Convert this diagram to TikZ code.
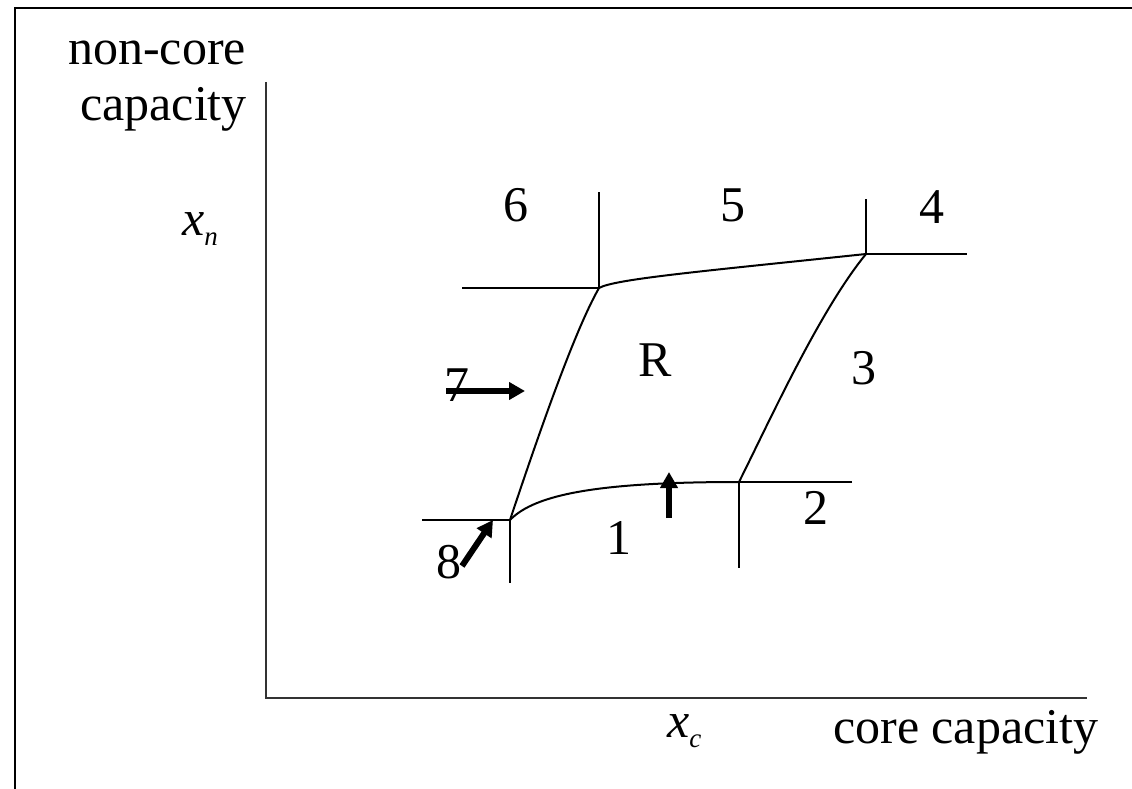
\documentclass[tikz,border=0pt]{standalone}
\usepackage{fontspec}
\setmainfont{Liberation Serif}
\usetikzlibrary{arrows.meta}
\begin{document}
\begin{tikzpicture}[x=1pt,y=-1pt,
  ln/.style={line width=2pt, line cap=butt},
  bigarrow/.style={line width=6pt, -{Triangle[length=16pt,width=17pt]}},
  lbl/.style={inner sep=0pt, font=\fontsize{50}{60}\selectfont},
  txt/.style={inner sep=0pt, font=\fontsize{50}{60}\selectfont, anchor=base west}]
\useasboundingbox (0,0) rectangle (1132,789);
% frame
\coordinate (f1) at (15,789);
\coordinate (f2) at (15,8);
\coordinate (f3) at (1132,8);
\draw[line width=2.5pt] (f1) -- (f2) -- (f3);
% axes
\coordinate (O) at (266,698);
\coordinate (yt) at (266,82);
\coordinate (xr) at (1087,698);
\draw[ln, black!80] (yt) -- (O) -- (xr);
% corners
\coordinate (A) at (510,520);
\coordinate (B) at (739,482);
\coordinate (C) at (599,288);
\coordinate (D) at (866,254);
% cross lines
\coordinate (Al) at (422,520);
\coordinate (Ad) at (510,583);
\coordinate (Br) at (852,482);
\coordinate (Bd) at (739,568);
\coordinate (Cl) at (462,288);
\coordinate (Cu) at (599,192);
\coordinate (Du) at (866,199);
\coordinate (Dr) at (967,254);
\draw[ln] (Al) -- (A) -- (Ad);
\draw[ln] (Br) -- (B) -- (Bd);
\draw[ln] (Cl) -- (C) -- (Cu);
\draw[ln] (Du) -- (D) -- (Dr);
% region boundary curves
\draw[ln] (A) .. controls (535,494) and (600,482) .. (B);
\draw[ln] (C) .. controls (615,279) and (700,271.5) .. (D);
\draw[ln] (A) .. controls (540,430) and (575,330) .. (C);
\draw[ln] (B) .. controls (770,420) and (820,310) .. (D);
% labels
\node[lbl] (l6) at (516,205) {6};
\node[lbl] (l5) at (733,205) {5};
\node[lbl] (l4) at (932,207) {4};
\node[lbl] (lR) at (655,360) {R};
\node[lbl] (l3) at (864,368) {3};
\node[lbl] (l7) at (457,385) {7};
\node[lbl] (l2) at (816,508) {2};
\node[lbl] (l1) at (619,538) {1};
\node[lbl] (l8) at (449,562) {8};
% arrows
\coordinate (a1s) at (669,518);
\coordinate (a1e) at (669,472);
\coordinate (a7s) at (446,391);
\coordinate (a7e) at (525,391);
\coordinate (a8s) at (462,566);
\coordinate (a8e) at (493,520);
\draw[bigarrow] (a1s) -- (a1e);
\draw[bigarrow] (a7s) -- (a7e);
\draw[bigarrow] (a8s) -- (a8e);
% axis texts
\node[txt] (nc1) at (68,65) {non-core};
\node[txt] (nc2) at (80,121) {capacity};
\node[txt] (cc) at (833,743) {core capacity};
\node[txt] (xn) at (182,235) {\itshape x\raisebox{-10pt}{\fontsize{27}{30}\selectfont\itshape n}};
\node[txt] (xc) at (667,737) {\itshape x\raisebox{-10pt}{\fontsize{27}{30}\selectfont\itshape c}};
\end{tikzpicture}
\end{document}
